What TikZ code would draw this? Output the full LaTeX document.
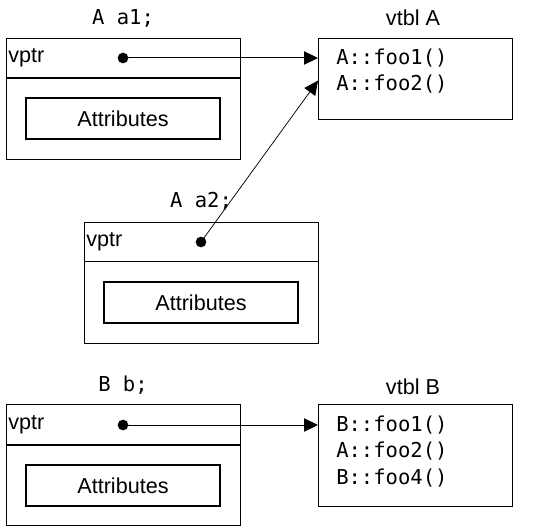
\documentclass[tikz,border=0pt]{standalone}
\usepackage{fontspec}
\setmainfont{Liberation Sans}
\newfontfamily\codefont{DejaVu Sans Mono}
\usetikzlibrary{arrows.meta}
\begin{document}
\begin{tikzpicture}[x=0.75pt,y=-0.75pt,
  objbox/.style={draw, line width=0.8pt, inner sep=0, minimum width=175.5pt, minimum height=90.75pt, anchor=north west},
  attrbox/.style={draw, line width=0.8pt, inner sep=0, minimum width=145.5pt, minimum height=30.75pt, font=\fontsize{16.2}{19}\selectfont},
  tblbox/.style={draw, line width=0.8pt, inner sep=0, minimum width=145.5pt, anchor=north west},
  lbl/.style={inner sep=0, font=\fontsize{16.2}{19}\selectfont},
  code/.style={inner sep=0, font=\codefont\fontsize{15.4}{19.5}\selectfont},
  dot/.style={circle, fill, inner sep=0, minimum size=8pt},
  ptr/.style={-{Triangle[length=10.5pt,width=10pt]}, line width=0.75pt},
  divider/.style={line width=0.8pt}
]
\useasboundingbox (0,0) rectangle (547,531);

% ---- object a1 ----
\node[objbox] (a1) at (6,38) {};
\draw[divider] ([yshift=-30pt]a1.north west) -- ([yshift=-30pt]a1.north east);
\node[attrbox] (a1attr) at (123,118.5) {Attributes};
\node[lbl, anchor=west] (a1vptr) at (8,58) {vptr};
\node[dot] (a1dot) at (123,58) {};
\node[code] (a1title) at (123,18) {A a1;};

% ---- vtbl A ----
\node[tblbox, minimum height=60.75pt] (vtA) at (318,38) {};
\node[lbl] (vtAtitle) at (413,18) {vtbl A};
\node[code, anchor=west] (vtAf1) at (336,58) {A::foo1()};
\node[code, anchor=west] (vtAf2) at (336,84) {A::foo2()};

% ---- object a2 ----
\node[objbox] (a2) at (84,222) {};
\draw[divider] ([yshift=-29.5pt]a2.north west) -- ([yshift=-29.5pt]a2.north east);
\node[attrbox] (a2attr) at (201,302.5) {Attributes};
\node[lbl, anchor=west] (a2vptr) at (86,242) {vptr};
\node[dot] (a2dot) at (201,242) {};
\node[code] (a2title) at (201,201) {A a2;};

% ---- object b ----
\node[objbox] (b) at (6,404) {};
\draw[divider] ([yshift=-30.75pt]b.north west) -- ([yshift=-30.75pt]b.north east);
\node[attrbox] (battr) at (123,485.5) {Attributes};
\node[lbl, anchor=west] (bvptr) at (8,425) {vptr};
\node[dot] (bdot) at (123,425) {};
\node[code] (btitle) at (123,385) {B b;};

% ---- vtbl B ----
\node[tblbox, minimum height=76.5pt] (vtB) at (318,404) {};
\node[lbl] (vtBtitle) at (413,387) {vtbl B};
\node[code, anchor=west] (vtBf1) at (336,425) {B::foo1()};
\node[code, anchor=west] (vtBf2) at (336,451.5) {A::foo2()};
\node[code, anchor=west] (vtBf4) at (336,478) {B::foo4()};

% ---- pointers ----
\coordinate (a2tip) at ([yshift=-1.2pt]vtA.west);
\draw[ptr] (a1dot.center) -- (vtA.west |- a1dot);
\draw[ptr, line width=0.55pt] (a2dot.center) -- (a2tip);
\draw[ptr] (bdot.center) -- (vtB.west |- bdot);
\end{tikzpicture}
\end{document}
